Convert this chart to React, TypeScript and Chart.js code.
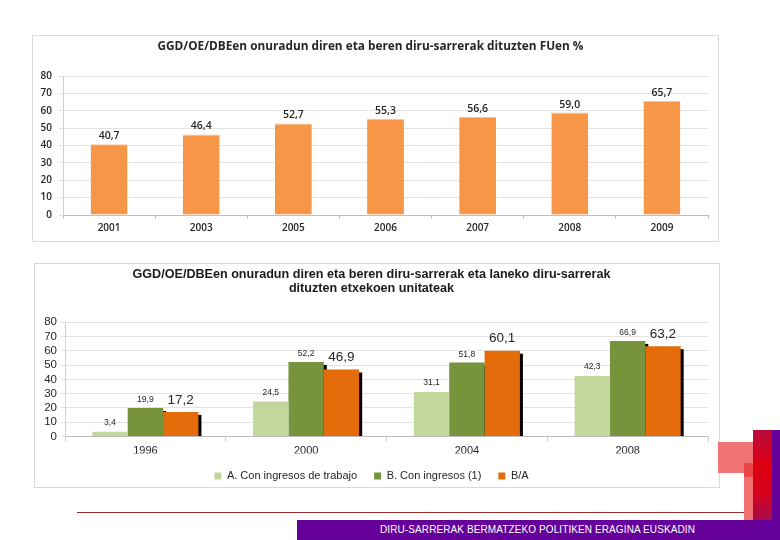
import { useEffect, useRef } from "react";
import { Chart, registerables } from "chart.js";

Chart.register(...registerables);

// top chart data
const topTitle = "GGD/OE/DBEen onuradun diren eta beren diru-sarrerak dituzten FUen %";
const topYears = ["2001", "2003", "2005", "2006", "2007", "2008", "2009"];
const topValues = [40.7, 46.4, 52.7, 55.3, 56.6, 59.0, 65.7];

// bottom chart data
const bottomTitle = [
  "GGD/OE/DBEen onuradun diren eta beren diru-sarrerak eta laneko diru-sarrerak",
  "dituzten etxekoen unitateak",
];
const bottomYears = ["1996", "2000", "2004", "2008"];
const seriesNames = ["A. Con ingresos de trabajo", "B. Con ingresos (1)", "B/A"];
const workIncome = [3.4, 24.5, 31.1, 42.3];
const withIncome = [19.9, 52.2, 51.8, 66.9];
const ratioBA = [17.2, 46.9, 60.1, 63.2];

const yTickValues = [0, 10, 20, 30, 40, 50, 60, 70, 80];

const footerText = "DIRU-SARRERAK BERMATZEKO POLITIKEN ERAGINA EUSKADIN";

const fmt = (v: number) => v.toFixed(1).replace(".", ",");

const valueLabels = {
  id: "valueLabels",
  afterDatasetsDraw(chart: any, _args: any, opts: any) {
    const ctx = chart.ctx;
    ctx.save();
    ctx.textAlign = "center";
    ctx.textBaseline = "middle";
    chart.data.datasets.forEach((ds: any, i: number) => {
      const st = opts.styles[i];
      ctx.font = st.font;
      ctx.fillStyle = st.color;
      chart.getDatasetMeta(i).data.forEach((el: any, j: number) => {
        const { x, y } = el.getProps(["x", "y"], true);
        ctx.fillText(fmt(ds.data[j]), x, y - st.gap);
      });
    });
    ctx.restore();
  },
};

const barShadow = {
  id: "barShadow",
  beforeDatasetsDraw(chart: any, _args: any, opts: any) {
    if (!opts.datasets) return;
    const ctx = chart.ctx;
    ctx.save();
    ctx.fillStyle = opts.color;
    opts.datasets.forEach((i: number) => {
      chart.getDatasetMeta(i).data.forEach((el: any) => {
        const { x, y, base, width } = el.getProps(["x", "y", "base", "width"], true);
        ctx.fillRect(x - width / 2 + opts.dx, y + opts.dy, width, base - y - opts.dy);
      });
    });
    ctx.restore();
  },
};

const fixTicks = (scale: any) => {
  scale.ticks = yTickValues.map((v) => ({ value: v }));
};

function TopChart() {
  const canvasRef: any = useRef(null);

  useEffect(() => {
    const font = { family: "'Open Sans', sans-serif", size: 10, weight: 600 as any };
    const chart = new Chart(canvasRef.current.getContext("2d"), {
      type: "bar",
      data: {
        labels: topYears,
        datasets: [
          {
            data: topValues,
            backgroundColor: "#F79646",
            borderColor: "#FBC494",
            borderWidth: { top: 1, left: 0, right: 0, bottom: 0 },
            categoryPercentage: 0.4,
            barPercentage: 1,
          },
        ],
      },
      options: {
        animation: false,
        responsive: true,
        maintainAspectRatio: false,
        layout: { padding: { left: 0, right: 10, top: 0, bottom: 0 } },
        plugins: {
          legend: { display: false },
          tooltip: { enabled: false },
          title: {
            display: true,
            text: topTitle,
            color: "#262626",
            font: { family: "'Open Sans', sans-serif", size: 11.8, weight: "bold", lineHeight: 1.2 },
            padding: { top: 3.9, bottom: 22 },
          },
          valueLabels: {
            styles: [{ font: "600 10.5px 'Open Sans'", color: "#262626", gap: 8 }],
          },
        } as any,
        scales: {
          x: {
            afterFit: (s: any) => {
              s.height = 26;
            },
            grid: { drawOnChartArea: false, tickLength: 4, color: "#BFBFBF", offset: true },
            border: { color: "#BFBFBF" },
            ticks: { color: "#262626", font, padding: 3 },
          },
          y: {
            min: 0,
            max: 80,
            afterBuildTicks: fixTicks,
            afterFit: (s: any) => {
              s.width = 30;
            },
            grid: { color: "#E3E3E3", tickLength: 4 },
            border: { color: "#D0D0D0" },
            ticks: { color: "#262626", font, padding: 7, autoSkip: false },
          },
        },
      },
      plugins: [valueLabels],
    });
    return () => {
      chart.destroy();
    };
  }, []);

  return (
    <div
      style={{
        position: "absolute",
        left: 32,
        top: 35,
        width: 687,
        height: 207,
        border: "1px solid #D9D9D9",
        boxSizing: "border-box",
        background: "#fff",
      }}
    >
      <canvas ref={canvasRef}></canvas>
    </div>
  );
}

function BottomChart() {
  const canvasRef: any = useRef(null);

  useEffect(() => {
    const font = { family: "'Liberation Sans', Arial, sans-serif", size: 11 };
    const chart = new Chart(canvasRef.current.getContext("2d"), {
      type: "bar",
      data: {
        labels: bottomYears,
        datasets: [
          { label: seriesNames[0], data: workIncome, backgroundColor: "#C3D69B" },
          { label: seriesNames[1], data: withIncome, backgroundColor: "#77933C" },
          { label: seriesNames[2], data: ratioBA, backgroundColor: "#E46C0A" },
        ],
      },
      options: {
        animation: false,
        responsive: true,
        maintainAspectRatio: false,
        layout: { padding: { left: 0, right: 11, top: 0, bottom: -4.5 } },
        datasets: { bar: { categoryPercentage: 0.66, barPercentage: 1 } },
        plugins: {
          legend: {
            position: "bottom",
            labels: { boxWidth: 7, boxHeight: 7, padding: 17, color: "#262626", font },
          },
          tooltip: { enabled: false },
          title: {
            display: true,
            text: bottomTitle,
            color: "#1a1a1a",
            font: { family: "'Liberation Sans', Arial, sans-serif", size: 12.6, weight: "bold", lineHeight: 1.1 },
            padding: { top: 4, bottom: 26.5 },
          },
          barShadow: { datasets: [1, 2], color: "#000", dx: 3, dy: 3 },
          valueLabels: {
            styles: [
              { font: "8.5px 'Liberation Sans'", color: "#262626", gap: 9 },
              { font: "8.5px 'Liberation Sans'", color: "#262626", gap: 8 },
              { font: "13.5px 'Liberation Sans'", color: "#262626", gap: 12 },
            ],
          },
        } as any,
        scales: {
          x: {
            afterFit: (s: any) => {
              s.height = 17;
            },
            grid: { drawOnChartArea: false, tickLength: 5, color: "#D0D0D0", offset: true },
            border: { color: "#BFBFBF" },
            ticks: { color: "#262626", font, padding: 3 },
          },
          y: {
            min: 0,
            max: 80,
            afterBuildTicks: fixTicks,
            afterFit: (s: any) => {
              s.width = 30;
            },
            grid: { color: "#E3E3E3", tickLength: 4 },
            border: { color: "#D0D0D0" },
            ticks: { color: "#262626", font: { ...font, size: 11.5 }, padding: 4, autoSkip: false },
          },
        },
      },
      plugins: [barShadow, valueLabels],
    });
    return () => {
      chart.destroy();
    };
  }, []);

  return (
    <div
      style={{
        position: "absolute",
        left: 34,
        top: 263,
        width: 686,
        height: 225,
        border: "1px solid #D9D9D9",
        boxSizing: "border-box",
        background: "#fff",
      }}
    >
      <canvas ref={canvasRef}></canvas>
    </div>
  );
}

const block = (left: number, top: number, width: number, height: number, background: string) => (
  <div style={{ position: "absolute", left, top, width, height, background }} />
);

export default function App() {
  return (
    <div
      style={{
        position: "fixed",
        left: 0,
        top: 0,
        width: 780,
        height: 540,
        background: "#fff",
        overflow: "hidden",
      }}
    >
      <TopChart />
      <BottomChart />
      {block(77, 512, 676, 1, "#A0282A")}
      {block(718, 442, 35, 31, "#F07474")}
      {block(744, 463, 9, 57, "#F07070")}
      {block(744, 463, 9, 14, "#EC4545")}
      {block(753, 430, 19, 90, "linear-gradient(#B80C3C, #E00010 40%, #D4001C 70%, #A80C4C)")}
      {block(772, 430, 8, 110, "#66009A")}
      {block(297, 520, 483, 20, "#66009A")}
      <div
        style={{
          position: "absolute",
          left: 380,
          top: 520,
          height: 20,
          lineHeight: "20px",
          color: "#fff",
          fontFamily: "'Liberation Sans', Arial, sans-serif",
          fontSize: 10,
          letterSpacing: 0.1,
          whiteSpace: "nowrap",
        }}
      >
        {footerText}
      </div>
    </div>
  );
}
